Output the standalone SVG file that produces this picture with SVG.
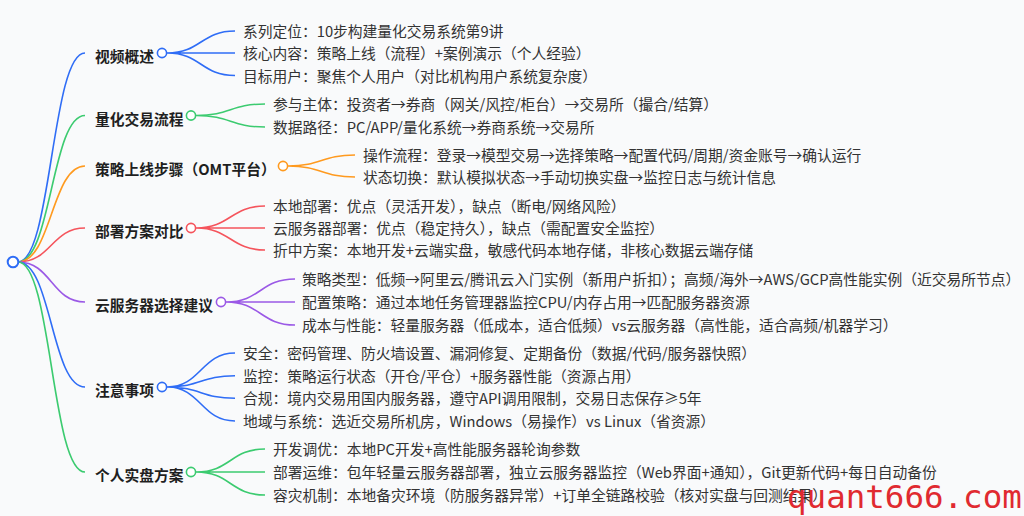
<svg xmlns="http://www.w3.org/2000/svg" width="1024" height="516" viewBox="0 0 1024 516">
<style>
text{font-family:"Noto Sans CJK SC","Noto Sans",sans-serif;font-size:14.75px;fill:#333}
.b{font-weight:700;fill:#1f1f1f}
.ln{fill:none;stroke-width:1.6}
.dot{fill:#fff;stroke-width:1.6}
.blue{stroke:#2f6df6}.green{stroke:#3ccb70}.orange{stroke:#ff9a1f}.red{stroke:#f5545c}.purple{stroke:#9b59e6}
.wm{font-family:"DejaVu Sans Mono",monospace;font-size:32.5px;fill:#e02a30}
</style>
<rect width="1024" height="516" fill="#f9fafb"/>
<g id="connectors">
<path class="ln blue" d="M18 262C51.5 262 51.5 53 85 53"/>
<path class="ln green" d="M18 262C51.5 262 51.5 115.5 85 115.5"/>
<path class="ln orange" d="M18 262C51.5 262 51.5 166 85 166"/>
<path class="ln red" d="M18 262C51.5 262 51.5 228 85 228"/>
<path class="ln purple" d="M18 262C51.5 262 51.5 302 85 302"/>
<path class="ln blue" d="M18 262C51.5 262 51.5 387 85 387"/>
<path class="ln green" d="M18 262C51.5 262 51.5 472 85 472"/>
<path class="ln blue" d="M167 53C201 53 201 31 235 31M167 53H235M167 53C201 53 201 75.5 235 75.5"/>
<path class="ln green" d="M196 115.5C230.5 115.5 230.5 104 265 104M196 115.5C230.5 115.5 230.5 127 265 127"/>
<path class="ln orange" d="M288 166C321.5 166 321.5 155 355 155M288 166C321.5 166 321.5 177 355 177"/>
<path class="ln red" d="M196 228C230.5 228 230.5 206 265 206M196 228H265M196 228C230.5 228 230.5 250 265 250"/>
<path class="ln purple" d="M226 302C260.5 302 260.5 279 295 279M226 302H295M226 302C260.5 302 260.5 325 295 325"/>
<path class="ln blue" d="M167 387C201 387 201 353 235 353M167 387C201 387 201 375.7 235 375.7M167 387C201 387 201 398.3 235 398.3M167 387C201 387 201 421 235 421"/>
<path class="ln green" d="M196 472C230.5 472 230.5 449 265 449M196 472H265M196 472C230.5 472 230.5 495 265 495"/>
</g>
<g id="root"><circle cx="13" cy="262" r="5.3" fill="#fff" stroke="#2f6df6" stroke-width="2"/></g>
<g id="n1">
<text class="b" x="95" y="62">视频概述</text><circle class="dot blue" cx="162" cy="53" r="4.6"/>
<text x="243" y="37">系列定位：10步构建量化交易系统第9讲</text>
<text x="243" y="59">核心内容：策略上线（流程）+案例演示（个人经验）</text>
<text x="243" y="81.5">目标用户：聚焦个人用户（对比机构用户系统复杂度）</text>
</g>
<g id="n2">
<text class="b" x="95" y="124.5">量化交易流程</text><circle class="dot green" cx="191" cy="115.5" r="4.6"/>
<text x="273" y="110">参与主体：投资者→券商（网关/风控/柜台）→交易所（撮合/结算）</text>
<text x="273" y="133">数据路径：PC/APP/量化系统→券商系统→交易所</text>
</g>
<g id="n3">
<text class="b" x="95" y="175">策略上线步骤（OMT平台）</text><circle class="dot orange" cx="283" cy="166" r="4.6"/>
<text x="363" y="161">操作流程：登录→模型交易→选择策略→配置代码/周期/资金账号→确认运行</text>
<text x="363" y="183">状态切换：默认模拟状态→手动切换实盘→监控日志与统计信息</text>
</g>
<g id="n4">
<text class="b" x="95" y="237">部署方案对比</text><circle class="dot red" cx="191" cy="228" r="4.6"/>
<text x="273" y="212">本地部署：优点（灵活开发），缺点（断电/网络风险）</text>
<text x="273" y="234">云服务器部署：优点（稳定持久），缺点（需配置安全监控）</text>
<text x="273" y="256">折中方案：本地开发+云端实盘，敏感代码本地存储，非核心数据云端存储</text>
</g>
<g id="n5">
<text class="b" x="95" y="311">云服务器选择建议</text><circle class="dot purple" cx="221" cy="302" r="4.6"/>
<text x="302" y="285">策略类型：低频→阿里云/腾讯云入门实例（新用户折扣）；高频/海外→AWS/GCP高性能实例（近交易所节点）</text>
<text x="302" y="308">配置策略：通过本地任务管理器监控CPU/内存占用→匹配服务器资源</text>
<text x="302" y="331">成本与性能：轻量服务器（低成本，适合低频）vs云服务器（高性能，适合高频/机器学习）</text>
</g>
<g id="n6">
<text class="b" x="95" y="396">注意事项</text><circle class="dot blue" cx="162" cy="387" r="4.6"/>
<text x="243" y="359">安全：密码管理、防火墙设置、漏洞修复、定期备份（数据/代码/服务器快照）</text>
<text x="243" y="381.7">监控：策略运行状态（开仓/平仓）+服务器性能（资源占用）</text>
<text x="243" y="404.3">合规：境内交易用国内服务器，遵守API调用限制，交易日志保存≥5年</text>
<text x="243" y="427">地域与系统：选近交易所机房，Windows（易操作）vs Linux（省资源）</text>
</g>
<g id="n7">
<text class="b" x="95" y="481">个人实盘方案</text><circle class="dot green" cx="191" cy="472" r="4.6"/>
<text x="273" y="455">开发调优：本地PC开发+高性能服务器轮询参数</text>
<text x="273" y="478">部署运维：包年轻量云服务器部署，独立云服务器监控（Web界面+通知），Git更新代码+每日自动备份</text>
<text x="273" y="501">容灾机制：本地备灾环境（防服务器异常）+订单全链路校验（核对实盘与回测结果）</text>
</g>
<text class="wm" x="787" y="508">quant666.com</text>
</svg>
